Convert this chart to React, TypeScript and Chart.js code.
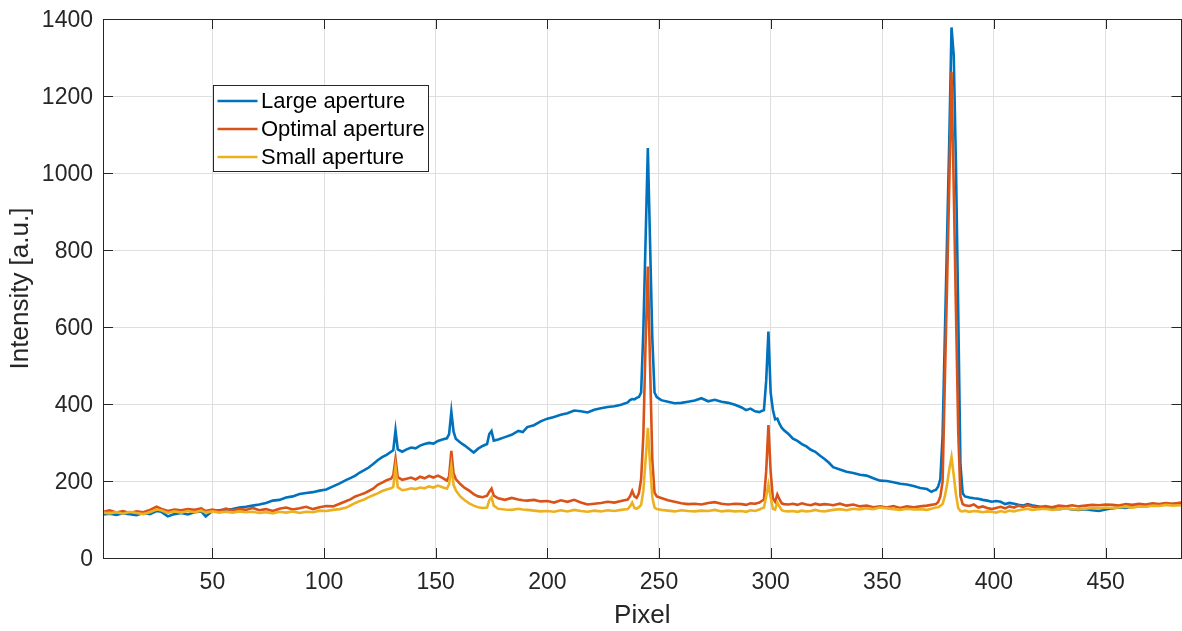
import React, { useEffect, useRef } from "react";
import { Chart, registerables } from "chart.js";

Chart.register(...registerables);

const pixels = [
  1, 4, 7, 10, 13, 16, 19, 22, 25, 27,
  30, 33, 36, 39, 42, 45, 47, 50, 53, 56,
  59, 62, 65, 68, 71, 74, 77, 80, 83, 86,
  89, 92, 95, 98, 101, 104, 107, 110, 112, 114,
  116, 118, 120, 122, 124, 126, 128, 130, 131, 132,
  133, 135, 137, 139, 141, 143, 145, 147, 149, 151,
  153, 155, 156, 157, 158, 159, 161, 163, 165, 167,
  169, 171, 173, 174, 175, 176, 178, 181, 184, 187,
  189, 191, 194, 197, 200, 203, 206, 209, 212, 215,
  218, 221, 224, 227, 230, 233, 236, 237, 238, 239,
  240, 241, 242, 243, 244, 245, 246, 247, 248, 249,
  251, 254, 257, 260, 263, 266, 269, 272, 275, 278,
  281, 284, 287, 289, 291, 293, 295, 296, 297, 298,
  299, 300, 301, 302, 303, 304, 305, 306, 308, 310,
  312, 314, 316, 318, 320, 322, 324, 326, 328, 331,
  334, 337, 340, 343, 346, 349, 352, 355, 358, 361,
  364, 367, 370, 372, 373, 374, 375, 376, 377, 378,
  379, 380, 381, 382, 383, 384, 385, 386, 387, 389,
  391, 393, 395, 397, 399, 401, 403, 405, 407, 409,
  411, 413, 415, 417, 420, 423, 426, 429, 432, 435,
  438, 441, 444, 447, 450, 453, 456, 459, 462, 465,
  468, 471, 474, 477, 480, 484,
];

const largeAperture = [
  113, 115, 112, 116, 114, 111, 117, 114, 122, 120,
  108, 114, 117, 113, 119, 121, 108, 122, 124, 126,
  127, 131, 133, 136, 139, 143, 149, 151, 157, 160,
  166, 169, 171, 175, 178, 186, 194, 203, 208, 214,
  222, 228, 235, 244, 254, 262, 268, 276, 280, 332,
  282, 276, 282, 287, 285, 292, 296, 299, 297, 304,
  308, 311, 322, 380, 328, 310, 300, 292, 283, 274,
  284, 291, 296, 322, 330, 305, 308, 314, 320, 330,
  327, 340, 345, 355, 362, 366, 372, 376, 383, 381,
  378, 385, 389, 392, 394, 398, 404, 410, 413, 412,
  416, 418, 430, 593, 827, 1065, 818, 571, 430, 418,
  410, 406, 402, 403, 406, 409, 415, 407, 411, 406,
  403, 398, 391, 384, 388, 381, 379, 382, 384, 460,
  588, 430, 385, 360, 362, 348, 338, 332, 322, 310,
  304, 296, 290, 281, 276, 266, 258, 248, 236, 230,
  224, 221, 216, 214, 207, 201, 200, 197, 193, 191,
  187, 182, 179, 172, 175, 177, 185, 205, 317, 573,
  827, 1086, 1378, 1305, 1017, 642, 243, 168, 160, 157,
  155, 154, 151, 149, 146, 148, 146, 140, 143, 141,
  138, 136, 140, 137, 134, 131, 129, 127, 129, 126,
  125, 127, 124, 122, 126, 129, 131, 130, 133, 135,
  134, 138, 137, 139, 140, 141,
];

const optimalAperture = [
  120, 124, 118, 122, 117, 121, 119, 125, 133, 128,
  122, 126, 124, 127, 125, 129, 122, 126, 122, 128,
  124, 127, 125, 130, 124, 127, 122, 128, 131, 126,
  129, 133, 127, 132, 135, 134, 141, 148, 153, 160,
  164, 168, 174, 180, 190, 196, 202, 206, 215, 258,
  210, 203, 206, 209, 204, 211, 207, 213, 209, 214,
  208, 201, 212, 278, 220, 205, 192, 182, 175, 166,
  160, 158, 162, 172, 180, 162, 155, 151, 156, 152,
  150, 149, 151, 147, 148, 144, 150, 146, 151, 144,
  139, 141, 143, 146, 144, 148, 152, 160, 174, 160,
  156, 168, 205, 320, 560, 757, 500, 255, 170, 160,
  156, 150, 146, 142, 140, 141, 139, 143, 145, 141,
  139, 141, 140, 138, 142, 141, 144, 148, 152, 225,
  345, 225, 155, 146, 165, 152, 142, 140, 139, 141,
  138, 142, 139, 137, 141, 138, 140, 139, 137, 141,
  136, 139, 134, 136, 132, 134, 131, 135, 130, 134,
  132, 134, 136, 138, 139, 140, 145, 160, 198, 455,
  708, 969, 1263, 960, 640, 330, 160, 140, 137, 135,
  139, 131, 134, 130, 127, 130, 133, 129, 134, 131,
  136, 133, 137, 134, 131, 135, 132, 136, 134, 137,
  134, 136, 138, 137, 139, 138, 136, 140, 138, 141,
  139, 142, 140, 143, 141, 144,
];

const smallAperture = [
  118, 116, 119, 115, 120, 117, 114, 119, 126, 124,
  117, 121, 118, 122, 119, 123, 118, 121, 118, 120,
  118, 121, 119, 120, 117, 119, 116, 120, 118, 121,
  117, 120, 119, 123, 122, 125, 127, 131, 137, 143,
  148, 152, 158, 163, 168, 174, 178, 181, 185, 235,
  184, 176, 178, 181, 179, 183, 181, 186, 183, 188,
  184, 180, 192, 239, 190, 176, 160, 150, 142, 136,
  132, 130, 131, 150, 158, 136, 128, 126, 125, 128,
  126, 125, 123, 121, 122, 120, 124, 121, 125, 122,
  120, 123, 121, 124, 122, 125, 127, 134, 144, 130,
  128, 132, 138, 175, 255, 338, 245, 158, 131, 127,
  125, 123, 121, 124, 122, 121, 123, 122, 125, 121,
  123, 121, 122, 120, 124, 122, 126, 129, 131, 160,
  191, 158, 128, 126, 144, 133, 124, 122, 121, 122,
  120, 123, 121, 122, 125, 122, 121, 123, 125, 127,
  124, 128, 126, 129, 127, 131, 129, 127, 125, 128,
  126, 127, 125, 128, 130, 131, 132, 135, 140, 160,
  190, 230, 262, 215, 165, 130, 122, 121, 123, 120,
  122, 121, 119, 121, 120, 118, 122, 119, 123, 121,
  124, 126, 128, 125, 127, 128, 125, 127, 129, 127,
  126, 128, 130, 129, 131, 130, 131, 133, 131, 134,
  133, 136, 135, 138, 136, 137,
];

const seriesNames = ["Large aperture", "Optimal aperture", "Small aperture"];
const seriesColors = ["#0072BD", "#D95319", "#EDB120"];
const xTicks = [50, 100, 150, 200, 250, 300, 350, 400, 450];
const yTicks = [0, 200, 400, 600, 800, 1000, 1200, 1400];
const xTitle = "Pixel";
const yTitle = "Intensity [a.u.]";

const FONT = '"Liberation Sans", Arial, Helvetica, sans-serif';
const AXIS = "#262626";

const framePlugin = {
  id: "matlabFrame",
  afterDatasetsDraw(chart: any) {
    const { ctx, chartArea: a, scales } = chart;
    const L = 10;
    ctx.save();
    ctx.strokeStyle = AXIS;
    ctx.lineWidth = 1;
    ctx.beginPath();
    scales.x.ticks.forEach((t: any) => {
      const px = Math.round(scales.x.getPixelForValue(t.value)) + 0.5;
      ctx.moveTo(px, a.bottom);
      ctx.lineTo(px, a.bottom - L);
      ctx.moveTo(px, a.top);
      ctx.lineTo(px, a.top + L);
    });
    scales.y.ticks.forEach((t: any) => {
      const py = Math.round(scales.y.getPixelForValue(t.value)) + 0.5;
      ctx.moveTo(a.left, py);
      ctx.lineTo(a.left + L, py);
      ctx.moveTo(a.right, py);
      ctx.lineTo(a.right - L, py);
    });
    ctx.stroke();
    ctx.strokeRect(
      Math.round(a.left) + 0.5,
      Math.round(a.top) + 0.5,
      Math.round(a.right - a.left) - 1,
      Math.round(a.bottom - a.top)
    );

    // legend box
    const lx = Math.round(a.left + 110) + 0.5;
    const ly = Math.round(a.top + 66) + 0.5;
    const w = 215;
    const h = 86;
    ctx.fillStyle = "#ffffff";
    ctx.fillRect(lx, ly, w, h);
    ctx.strokeStyle = AXIS;
    ctx.lineWidth = 1;
    ctx.strokeRect(lx, ly, w, h);
    ctx.font = `22px ${FONT}`;
    ctx.textBaseline = "middle";
    ctx.textAlign = "left";
    chart.data.datasets.forEach((ds: any, i: number) => {
      const y = ly + 15.5 + i * 28;
      ctx.strokeStyle = ds.borderColor;
      ctx.lineWidth = 2.5;
      ctx.beginPath();
      ctx.moveTo(lx + 4, y);
      ctx.lineTo(lx + 44, y);
      ctx.stroke();
      ctx.fillStyle = "#000000";
      ctx.fillText(ds.label, lx + 47.5, y + 1);
    });
    ctx.restore();
  },
};

export default function App() {
  const canvasRef = useRef<HTMLCanvasElement | null>(null);

  useEffect(() => {
    document.body.style.margin = "0";
    const canvas = canvasRef.current;
    if (!canvas) return;
    const seriesValues = [largeAperture, optimalAperture, smallAperture];
    const datasets = seriesValues.map((vals, i) => ({
      label: seriesNames[i],
      data: pixels.map((x, j) => ({ x, y: vals[j] })),
      borderColor: seriesColors[i],
      backgroundColor: seriesColors[i],
      borderWidth: 2.6,
      pointRadius: 0,
      tension: 0,
      fill: false,
      order: 3 - i,
    }));

    const chart = new Chart(canvas, {
      type: "line",
      data: { datasets },
      options: {
        animation: false,
        responsive: true,
        maintainAspectRatio: false,
        layout: { padding: { top: 19, right: 0.5, left: 0, bottom: 0 } },
        plugins: {
          legend: { display: false },
          tooltip: { enabled: false },
        },
        scales: {
          x: {
            type: "linear",
            min: 1,
            max: 484,
            afterBuildTicks: (scale: any) => {
              scale.ticks = xTicks.map((v) => ({ value: v }));
            },
            afterFit: (scale: any) => {
              scale.height = 73;
              scale.paddingLeft = 0;
              scale.paddingRight = 0;
            },
            grid: { color: "#dfdfdf", lineWidth: 1, drawTicks: false },
            border: { display: false },
            ticks: {
              color: AXIS,
              font: { family: FONT, size: 23 },
              padding: 11,
              maxRotation: 0,
              autoSkip: false,
              callback: (v: any) => String(v),
            },
            title: {
              display: true,
              text: xTitle,
              color: AXIS,
              font: { family: FONT, size: 26 },
              padding: { top: 0, bottom: 0 },
            },
          },
          y: {
            type: "linear",
            min: 0,
            max: 1400,
            afterBuildTicks: (scale: any) => {
              scale.ticks = yTicks.map((v) => ({ value: v }));
            },
            afterFit: (scale: any) => {
              scale.width = 103;
              scale.paddingTop = 0;
              scale.paddingBottom = 0;
            },
            grid: { color: "#dfdfdf", lineWidth: 1, drawTicks: false },
            border: { display: false },
            ticks: {
              color: AXIS,
              font: { family: FONT, size: 23 },
              padding: 10,
              labelOffset: 2,
              autoSkip: false,
              callback: (v: any) => String(v),
            },
            title: {
              display: true,
              text: yTitle,
              color: AXIS,
              font: { family: FONT, size: 26 },
              padding: { top: 5, bottom: 0 },
            },
          },
        },
      },
      plugins: [framePlugin],
    });

    return () => {
      chart.destroy();
    };
  }, []);

  return (
    <div
      style={{
        position: "fixed",
        left: 0,
        top: 0,
        width: "1182px",
        height: "631px",
        background: "#ffffff",
      }}
    >
      <canvas ref={canvasRef} />
    </div>
  );
}
